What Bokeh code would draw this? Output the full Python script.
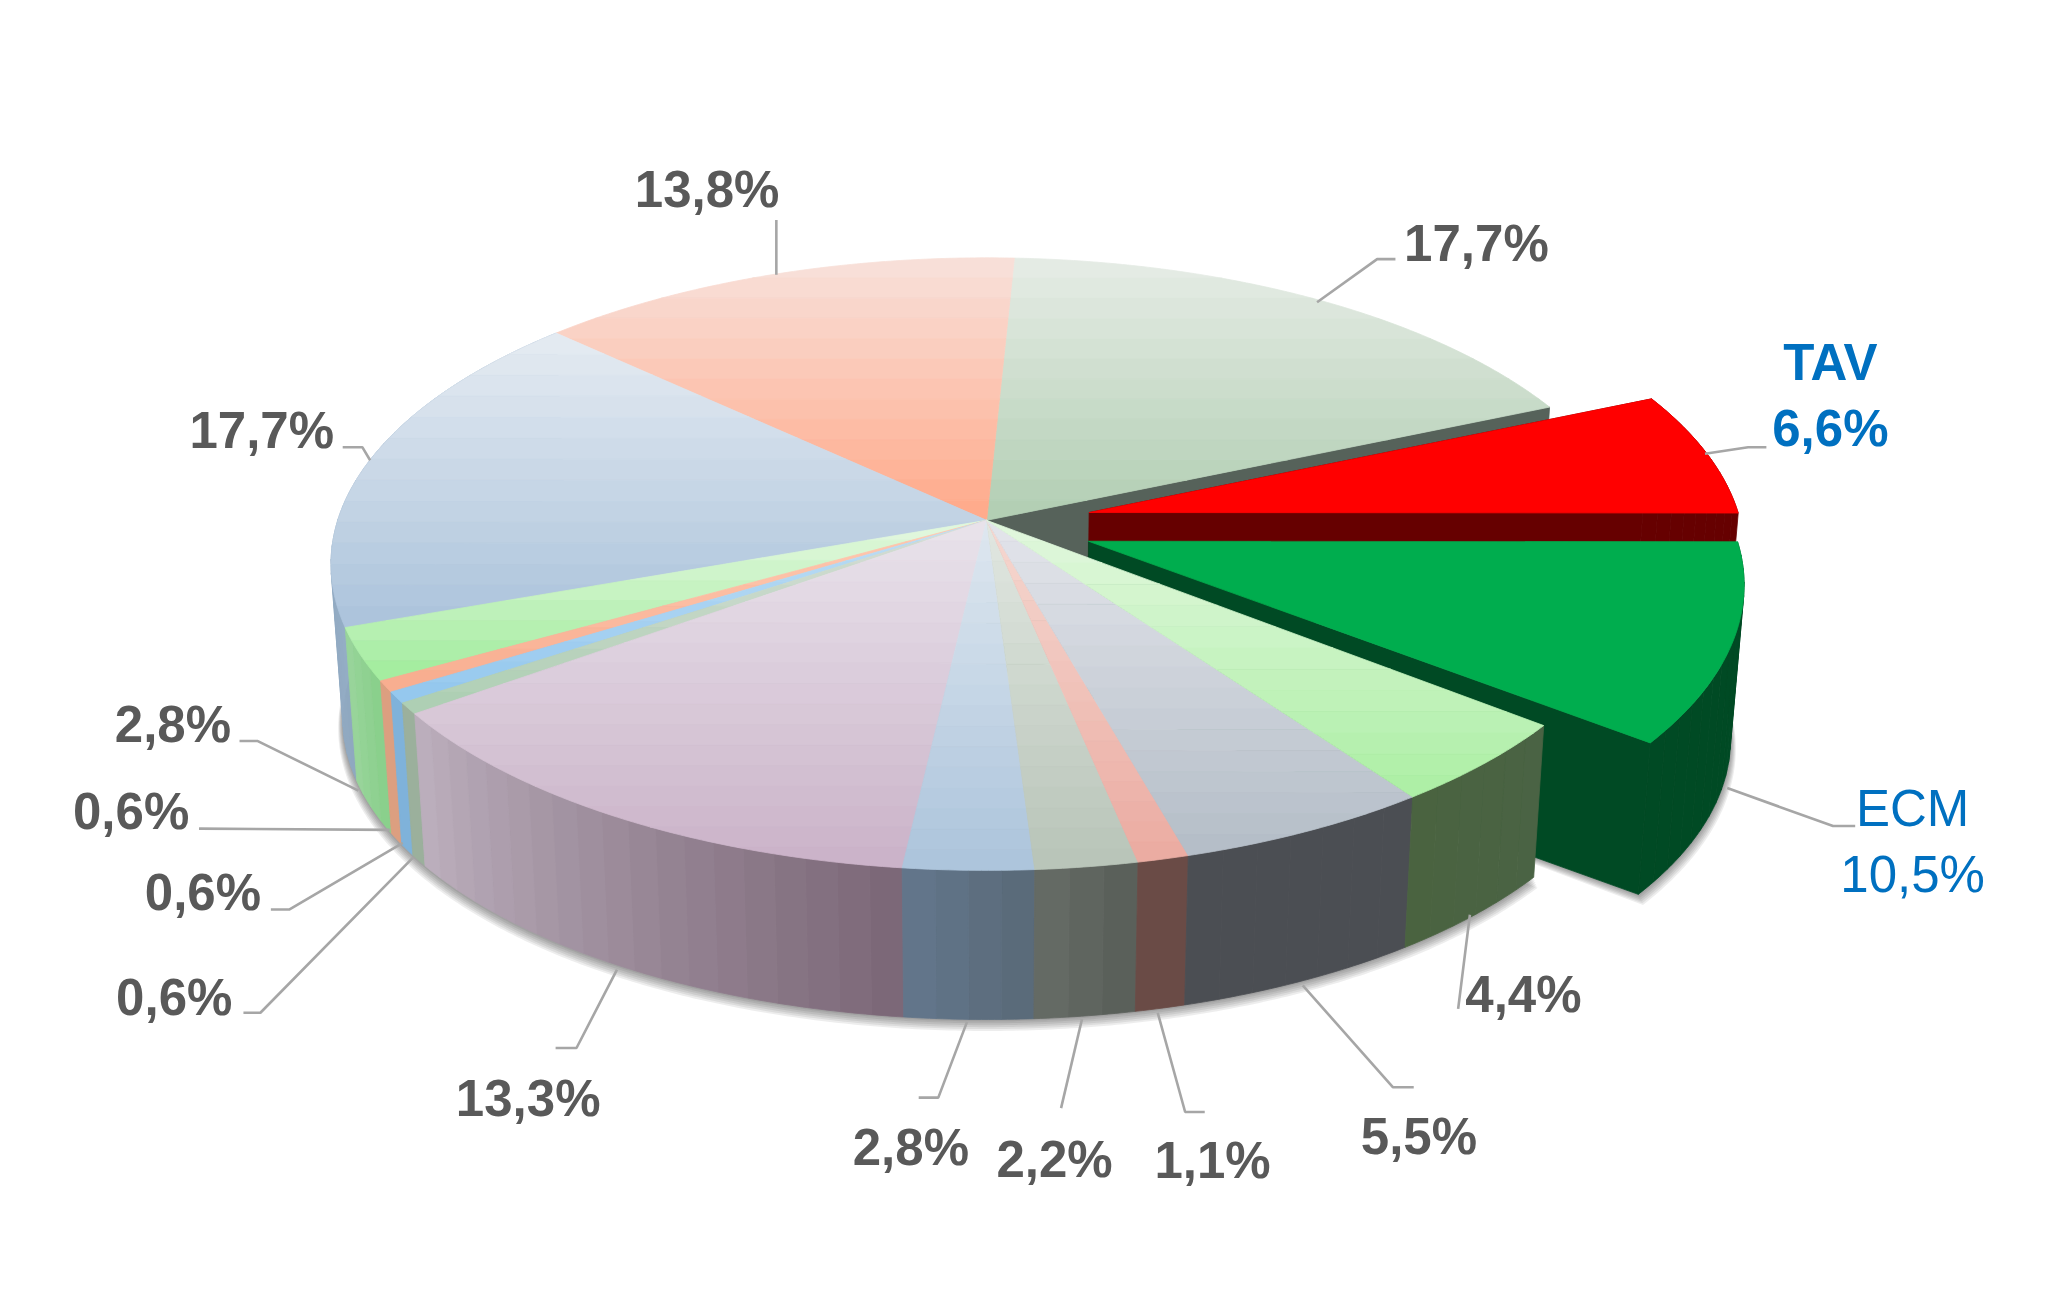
import math
from bokeh.plotting import figure
from bokeh.models import Range1d, ColumnDataSource
from bokeh.core.properties import value
from bokeh.embed import file_html
from bokeh.resources import INLINE

# ---------- data (clockwise from the top of the pie) ----------
names = ["s1", "TAV", "ECM", "s4", "s5", "s6", "s7", "s8", "s9", "s10", "s11", "s12", "s13", "s14", "s15"]
values = [17.7, 6.6, 10.5, 4.4, 5.5, 1.1, 2.2, 2.8, 13.3, 0.6, 0.6, 0.6, 2.8, 17.7, 13.8]
labels = ["17,7%", "6,6%", "10,5%", "4,4%", "5,5%", "1,1%", "2,2%", "2,8%", "13,3%", "0,6%", "0,6%", "0,6%", "2,8%", "17,7%", "13,8%"]

top_light = ["#E4EBE4", "#FF0000", "#00AD4E", "#E0F7DC", "#E2E4EA", "#F5D7D0", "#E0E6E0", "#DDE6EF", "#E8E2EA",
             "#D5DDD5", "#BCDDF5", "#FFC8B0", "#E0F7DC", "#E3EAF1", "#F8DFD8"]
top_base = ["#B3CFB4", "#FF0000", "#00AD4E", "#AEEFA6", "#B5BEC8", "#EBACA2", "#B9C5B9", "#ADC5DC", "#CBB3C9",
            "#AECFB4", "#95C8EE", "#F8AE90", "#A5EDA0", "#ADC4DC", "#FFAB8C"]
side_start = ["#56625A", "#660000", "#004A24", "#4A6344", "#4B4E53", "#6A4B46", "#5A605A", "#5A6B7A", "#7C6878",
              "#9BB09C", "#7FB2DA", "#DC9F80", "#8AD08C", "#8FA8C0", "#E09070"]
side_end = ["#56625A", "#660000", "#004A24", "#4A6340", "#4B4E53", "#6E4E49", "#646A64", "#62758A", "#BBAEBC",
            "#9BB09C", "#7FB2DA", "#DC9F80", "#98D49A", "#A0B8D0", "#E09070"]

# ---------- layout ----------
S = 2048 / 1568
CX, AY, BY = 755 * S, 398 * S, 517 * S
A, B, K = 229.7 * S, 496.8 * S, 0.1429
SHRINK = 0.982
START = 2.8
WARP = 1.1  # degrees of perspective skew at the front of the rim
OFFSETS = {1: (78.5 * S, -6 * S), 2: (78 * S, 16 * S)}
GREY, BLUE, LEAD = "#595959", "#0070C0", "#A6A6A6"

leaders = [
    [(1008, 231), (1054, 198), (1068, 198)],
    [(1305, 347), (1338, 342), (1352, 342)],
    [(1322, 603), (1403, 632), (1420, 632)],
    [(1125, 700), (1116, 772)],
    [(997, 754), (1066, 832), (1082, 832)],
    [(886, 775), (907, 851), (922, 851)],
    [(828, 780), (812, 848)],
    [(740, 782), (718, 840), (703, 840)],
    [(472, 742), (441, 802), (425, 802)],
    [(316, 656), (199, 775), (186, 775)],
    [(308, 645), (221, 696), (207, 696)],
    [(298, 635), (152, 634)],
    [(274, 605), (197, 567), (183, 567)],
    [(283, 352), (277, 342), (262, 342)],
    [(594, 210), (594, 168)],
]
label_pos = [(1130, 186), (1401, 328), (1464, 669), (1166, 761), (1086, 870), (928, 888), (807, 887), (697, 878),
             (404, 841), (133, 763), (155, 683), (100, 621), (132, 554), (200, 329), (541, 145)]


def hex2rgb(c):
    return tuple(int(c[i:i + 2], 16) for i in (1, 3, 5))


def mix(a, b, f):
    ra, rb = hex2rgb(a), hex2rgb(b)
    return "#%02X%02X%02X" % tuple(round(x + (y - x) * f) for x, y in zip(ra, rb))


def rim(t, off):
    r = math.radians(t)
    if off == (0, 0):
        r += math.radians(WARP * ((1 - math.cos(r)) / 2) ** 2)
    u, v = math.sin(r), math.cos(r)
    d = 1 + K * v
    return B * u / d, A * v / d


def top_pt(t, off=(0, 0)):
    X, Y = rim(t, off)
    return (CX + X + off[0], AY - Y + off[1])


def bot_pt(t, off=(0, 0), grow=1.0, dy=0.0):
    X, Y = rim(t, off)
    sc = SHRINK * grow
    return (CX + sc * (X + off[0]), BY + sc * (-Y + off[1]) + dy)


def arc(t0, t1):
    n = max(2, int(abs(t1 - t0) / 0.5))
    return [t0 + (t1 - t0) * i / n for i in range(n + 1)]


def clip_y(pts, y0, y1):
    def clip(poly, keep, cross):
        out = []
        for i in range(len(poly)):
            a, b = poly[i], poly[(i + 1) % len(poly)]
            if keep(a):
                out.append(a)
            if keep(a) != keep(b):
                out.append(cross(a, b))
        return out

    def cut(level):
        return lambda a, b: (a[0] + (b[0] - a[0]) * (level - a[1]) / (b[1] - a[1]), level)

    res = clip(pts, lambda p: p[1] >= y0, cut(y0))
    if res:
        res = clip(res, lambda p: p[1] <= y1, cut(y1))
    return res


p = figure(width=2032, height=1297, x_range=Range1d(0, 2032), y_range=Range1d(1297, 0),
           output_backend="svg", toolbar_location=None, min_border=0, outline_line_color=None,
           background_fill_color="white", border_fill_color="white")
p.axis.visible = False
p.grid.visible = False


def draw(polys, lw=0.8, alpha=1.0):
    if not polys:
        return
    src = ColumnDataSource(dict(xs=[[q[0] for q in pts] for pts, _ in polys],
                                ys=[[q[1] for q in pts] for pts, _ in polys],
                                c=[c for _, c in polys]))
    if alpha < 1:
        p.patches("xs", "ys", source=src, fill_color="c", fill_alpha=alpha, line_color=None)
    else:
        p.patches("xs", "ys", source=src, fill_color="c", line_color="c", line_width=lw)


total = sum(values)
edges = [START]
for val in values:
    edges.append(edges[-1] + val / total * 360)


def offset(i):
    return OFFSETS.get(i, (0, 0))


def top_face(i):
    t0, t1 = edges[i], edges[i + 1]
    off = offset(i)
    pts = [(CX + off[0], AY + off[1])] + [top_pt(t, off) for t in arc(t0, t1)]
    ys = [q[1] for q in pts]
    y0, y1 = min(ys), max(ys)
    if top_light[i] == top_base[i]:
        return [(pts, top_base[i])]
    n = max(2, int((y1 - y0) / 20))
    out = []
    for b in range(n):
        part = clip_y(pts, y0 + (y1 - y0) * b / n, y0 + (y1 - y0) * (b + 1) / n)
        if len(part) > 2:
            out.append((part, mix(top_light[i], top_base[i], b / (n - 1))))
    return out


def side_face(i, step=2.5):
    t0, t1 = edges[i], edges[i + 1]
    off = offset(i)
    n = max(1, int((t1 - t0) / step))
    out = []
    for s in range(n):
        a = t0 + (t1 - t0) * s / n
        b = t0 + (t1 - t0) * (s + 1) / n
        tt = arc(a, b)
        pts = [top_pt(t, off) for t in tt] + [bot_pt(t, off) for t in reversed(tt)]
        out.append((pts, mix(side_start[i], side_end[i], s / max(1, n - 1))))
    return out


def cut_face(i, t):
    off = offset(i)
    return ([(CX + off[0], AY + off[1]), top_pt(t, off), bot_pt(t, off),
             (CX + SHRINK * off[0], BY + SHRINK * off[1])], side_start[i])


def shadow(t0, t1, off=(0, 0)):
    for lay in range(1, 7):
        tt = arc(t0, t1)
        pts = [bot_pt(t, off, 1 + 0.0012 * lay, lay * 1.5) for t in tt]
        pts.append((CX + SHRINK * off[0], BY + SHRINK * off[1]))
        draw([(pts, "#000000")], alpha=0.07)


# back slices
draw([cut_face(0, edges[1])])
draw(top_face(0))
# exploded slices
draw(side_face(1))
draw([cut_face(1, edges[1])])
draw(top_face(1))
shadow(edges[2], edges[3], offset(2))
draw(side_face(2))
draw([cut_face(2, edges[3])])
draw(top_face(2))
# body front
shadow(edges[3], 300)
for i in (13, 12, 11, 10, 9, 8, 7, 6, 5, 4, 3):
    draw(side_face(i))
for i in (14, 13, 12, 11, 10, 9, 8, 7, 6, 5, 4, 3):
    draw(top_face(i))

# leader lines
p.multi_line([[q[0] * S for q in l] for l in leaders], [[q[1] * S for q in l] for l in leaders],
             line_color=LEAD, line_width=2.6)


def text(xs, ys, ts, color, style, size="51px"):
    p.text(xs, ys, text=ts, text_align="center", text_baseline="middle", text_color=color,
           text_font=value("Liberation Sans"), text_font_style=style, text_font_size=value(size))


grey_i = [i for i in range(len(labels)) if i not in (1, 2)]
text([label_pos[i][0] * S for i in grey_i], [label_pos[i][1] * S for i in grey_i], [labels[i] for i in grey_i], GREY, "bold")
text([1401 * S], [277 * S], ["TAV"], BLUE, "bold")
text([label_pos[1][0] * S], [label_pos[1][1] * S], [labels[1]], BLUE, "bold")
text([1464 * S], [619 * S], ["ECM"], BLUE, "normal")
text([label_pos[2][0] * S], [label_pos[2][1] * S], [labels[2]], BLUE, "normal")

open("out.html", "w").write(file_html(p, INLINE))
